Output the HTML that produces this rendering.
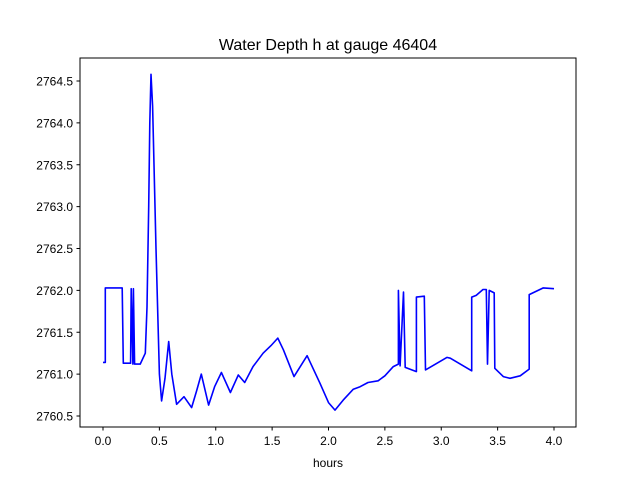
<!DOCTYPE html>
<html><head><meta charset="utf-8"><style>
body{margin:0;background:#fff}
svg text{font-family:"Liberation Sans","DejaVu Sans",sans-serif;fill:#000}
</style></head><body>
<svg id="chart" width="640" height="480">
<rect width="640" height="480" fill="#fff"/>
<text x="328" y="50" font-size="16" text-anchor="middle">Water Depth h at gauge 46404</text>
<g id="xticks"></g>
<g id="yticks"></g>
<polyline id="line" fill="none" stroke="#0000ff" stroke-width="1.6" stroke-linejoin="round"/>
<rect x="80" y="58" width="496" height="369" fill="none" stroke="#000" stroke-width="1"/>
<text x="328" y="467" font-size="12" text-anchor="middle">hours</text>
</svg>
<script>
const times = [0,0.02,0.02,0.17,0.18,0.245,0.25,0.265,0.27,0.28,0.3,0.33,0.375,0.39,0.405,0.415,0.426,0.44,0.47,0.5,0.52,0.55,0.583,0.61,0.653,0.718,0.786,0.83,0.872,0.937,0.99,1.05,1.13,1.2,1.257,1.33,1.42,1.49,1.55,1.6,1.694,1.81,1.925,2.0,2.058,2.13,2.22,2.28,2.35,2.44,2.5,2.575,2.62,2.62,2.635,2.665,2.68,2.78,2.78,2.85,2.86,3.05,3.08,3.27,3.27,3.31,3.37,3.4,3.41,3.425,3.47,3.475,3.55,3.61,3.7,3.78,3.78,3.905,4.0];
const depths = [2761.14,2761.14,2762.03,2762.03,2761.13,2761.13,2762.02,2761.12,2762.02,2761.12,2761.12,2761.12,2761.25,2761.8,2763.0,2764.0,2764.58,2764.2,2762.5,2761.0,2760.68,2760.95,2761.39,2761.0,2760.64,2760.73,2760.6,2760.8,2761.0,2760.63,2760.85,2761.02,2760.78,2760.99,2760.9,2761.09,2761.25,2761.34,2761.43,2761.29,2760.97,2761.22,2760.89,2760.66,2760.57,2760.69,2760.82,2760.85,2760.9,2760.92,2760.98,2761.09,2761.12,2762.0,2761.1,2761.98,2761.08,2761.03,2761.92,2761.93,2761.05,2761.2,2761.19,2761.04,2761.92,2761.94,2762.01,2762.01,2761.12,2762.0,2761.97,2761.07,2760.97,2760.95,2760.98,2761.06,2761.95,2762.03,2762.02];
const xTickLabels = ["0.0","0.5","1.0","1.5","2.0","2.5","3.0","3.5","4.0"];
const yTickLabels = ["2760.5","2761.0","2761.5","2762.0","2762.5","2763.0","2763.5","2764.0","2764.5"];
function xs(t){return 103 + t*112.75;}
function ys(h){return 81 + (2764.5-h)*83.75;}
const NS="http://www.w3.org/2000/svg";
const xg=document.getElementById('xticks'), yg=document.getElementById('yticks');
xTickLabels.forEach(l=>{
  const x=xs(parseFloat(l));
  const tk=document.createElementNS(NS,'line');
  tk.setAttribute('x1',x);tk.setAttribute('x2',x);tk.setAttribute('y1',427);tk.setAttribute('y2',430.5);tk.setAttribute('stroke','#000');
  
  
  xg.appendChild(tk);
  const tx=document.createElementNS(NS,'text');
  tx.setAttribute('x',x);tx.setAttribute('y',445);tx.setAttribute('font-size','12');tx.setAttribute('text-anchor','middle');
  tx.textContent=l;
  
  
  xg.appendChild(tx);
});
yTickLabels.forEach(l=>{
  const y=ys(parseFloat(l));
  const tk=document.createElementNS(NS,'line');
  tk.setAttribute('x1',76.5);tk.setAttribute('x2',80);tk.setAttribute('y1',y);tk.setAttribute('y2',y);tk.setAttribute('stroke','#000');
  
  
  yg.appendChild(tk);
  const tx=document.createElementNS(NS,'text');
  tx.setAttribute('x',73);tx.setAttribute('y',y+4.5);tx.setAttribute('font-size','12');tx.setAttribute('text-anchor','end');
  tx.textContent=l;
  
  
  yg.appendChild(tx);
});
document.getElementById('line').setAttribute('points', times.map((t,i)=>xs(t).toFixed(1)+','+ys(depths[i]).toFixed(1)).join(' '));
</script>
</body></html>
